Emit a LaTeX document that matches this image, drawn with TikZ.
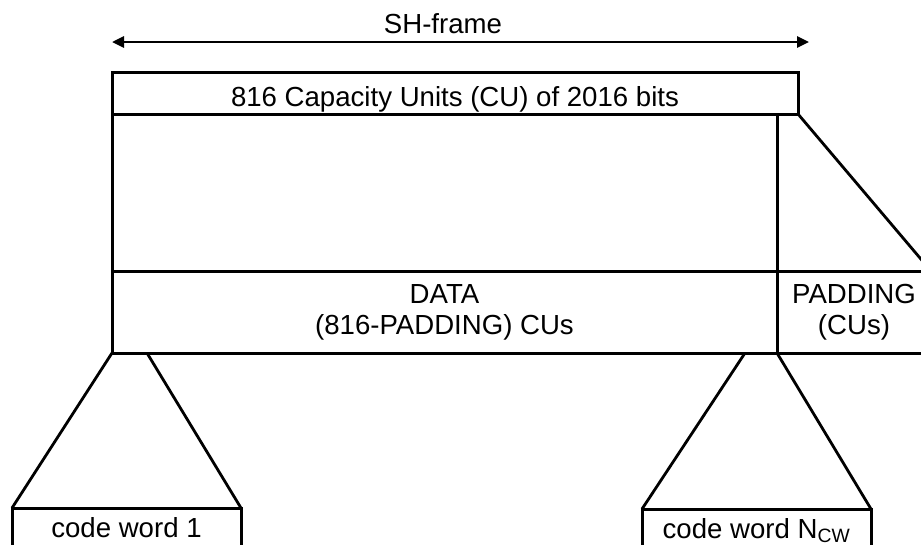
\documentclass[tikz,border=0pt]{standalone}
\usepackage{fontspec}
\setmainfont{Liberation Sans}
\usepackage{tikz}
\usetikzlibrary{arrows.meta}
\tikzset{
	cubox/.style={draw, rectangle, line width=3pt, inner sep=0pt, outer sep=0pt, anchor=north west, align=center, font=\fontsize{27.6}{31}\selectfont},
	cwbox/.style={cubox, minimum width=229pt, minimum height=44pt, text height=14pt, text depth=0pt},
	funnel/.style={line width=2.8pt},
	span/.style={line width=2.8pt, {Triangle[length=12pt,width=11pt]}-{Triangle[length=12pt,width=11pt]}}
}
\begin{document}
\begin{tikzpicture}[x=1pt, y=-1pt]
			%%%%% START %%%%%
			\useasboundingbox (0, 0) rectangle (921, 544);
			\clip (0, 0) rectangle (921, 544);
			
			\node[font=\fontsize{27.6}{31}\selectfont] (shlabel) at (443, 24) {SH-frame};
			\coordinate (shleft) at (112, 42);
			\coordinate (shright) at (809, 42);
			\draw[span] (shleft) -- (shright);
			
			\node[cubox, minimum width=686pt, minimum height=42pt, text height=26pt, text depth=0pt] (units) at (112, 72) {816 Capacity Units (CU) of 2016 bits};
			\node[cubox, minimum width=665pt, minimum height=157pt] (body) at (112, 114) {};
			\node[cubox, minimum width=665pt, minimum height=82pt] (data) at (112, 271) {DATA\\(816-PADDING) CUs};
			\node[cubox, minimum width=154pt, minimum height=82pt] (padding) at (777, 271) {PADDING\\(CUs)};
			
			\node[cwbox] (cwfirst) at (12, 508) {code word 1};
			\node[cwbox] (cwlast) at (642, 509) {code word N\textsubscript{CW}};
			
			\coordinate (firstright) at (147, 353);
			\coordinate (lastleft) at (745, 353);
			
			\draw[funnel] (units.south east) -- (padding.north east);
			\draw[funnel] (data.south west) -- (cwfirst.north west);
			\draw[funnel] (firstright) -- (cwfirst.north east);
			\draw[funnel] (lastleft) -- (cwlast.north west);
			\draw[funnel] (data.south east) -- (cwlast.north east);
			%%%%% END %%%%%
\end{tikzpicture}
\end{document}
